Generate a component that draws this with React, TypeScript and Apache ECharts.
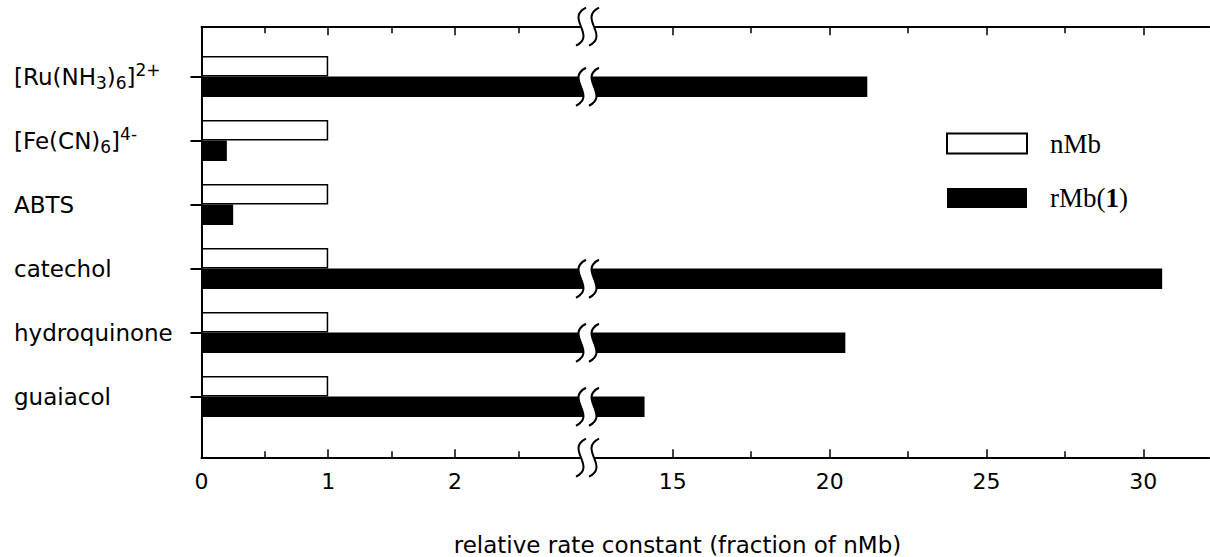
import React, { useEffect, useRef } from 'react';
import * as echarts from 'echarts';

// ---------- data ----------
const categories = ['[Ru(NH3)6]2+', '[Fe(CN)6]4-', 'ABTS', 'catechol', 'hydroquinone', 'guaiacol'];
const nMbValues = [1, 1, 1, 1, 1, 1];
const rMbValues = [21.2, 0.2, 0.25, 30.6, 20.5, 14.1];
const seriesNames = ['nMb', 'rMb(1)'];
const leftMajorTicks = [0, 1, 2];
const leftMinorTicks = [0.5, 1.5, 2.5];
const rightMajorTicks = [15, 20, 25, 30];
const rightMinorTicks = [17.5, 22.5, 27.5];
const axisTitle = 'relative rate constant (fraction of nMb)';

// ---------- layout ----------
const LEFT_MIN = 0;
const LEFT_MAX = 3.04;
const RIGHT_MIN = 12.4;
const RIGHT_MAX = 32.1;
const X0 = 201.5;
const LEFT_PPU = 126.7;
const RIGHT_PPU = 31.37;
const X15 = 672.8;
const LEFT_W = (LEFT_MAX - LEFT_MIN) * LEFT_PPU;
const RIGHT_X = X15 - (15 - RIGHT_MIN) * RIGHT_PPU;
const RIGHT_W = (RIGHT_MAX - RIGHT_MIN) * RIGHT_PPU;
const FRAME_TOP = 26.7;
const FRAME_BOTTOM = 457.7;
const GRID_TOP = 44.5;
const GRID_H = 384;
const BREAK_X = 587.5;
const BAR_W = 20.5;

const SANS = 'DejaVu Sans';
const SERIF = 'Liberation Serif';

const richLabels: Record<string, string> = {
  '[Ru(NH3)6]2+': '{m|[Ru(NH}{sub|3}{m|)}{sub|6}{m|]}{sup|2+}',
  '[Fe(CN)6]4-': '{m|[Fe(CN)}{sub|6}{m|]}{sup|4-}',
};

function bez(p0: number, p1: number, p2: number, p3: number, t: number) {
  const u = 1 - t;
  return u * u * u * p0 + 3 * u * u * t * p1 + 3 * u * t * t * p2 + t * t * t * p3;
}

function breakMark(cx: number, cy: number) {
  const h = 19;
  const gap = 6.5;
  const curve = (c: number) => ({
    x1: c + 5, y1: cy - h,
    cpx1: c - 16, cpy1: cy - h * 0.45,
    cpx2: c + 16, cpy2: cy + h * 0.45,
    x2: c - 5, y2: cy + h,
  });
  const c1 = curve(cx - gap);
  const c2 = curve(cx + gap);
  const pts: number[][] = [];
  for (let i = 0; i <= 30; i++) {
    const t = i / 30;
    pts.push([bez(c1.x1, c1.cpx1, c1.cpx2, c1.x2, t), bez(c1.y1, c1.cpy1, c1.cpy2, c1.y2, t)]);
  }
  for (let i = 30; i >= 0; i--) {
    const t = i / 30;
    pts.push([bez(c2.x1, c2.cpx1, c2.cpx2, c2.x2, t), bez(c2.y1, c2.cpy1, c2.cpy2, c2.y2, t)]);
  }
  return [
    { type: 'polygon', z: 100, shape: { points: pts }, style: { fill: '#fff', stroke: null } },
    { type: 'bezierCurve', z: 101, shape: c1, style: { stroke: '#000', lineWidth: 2, fill: null } },
    { type: 'bezierCurve', z: 101, shape: c2, style: { stroke: '#000', lineWidth: 2, fill: null } },
  ];
}

const lineStyle = { color: '#000', width: 2 };
const tickLabel = { fontFamily: SANS, fontSize: 22, color: '#000', margin: 13 };

function xAxisDef(grid: number, min: number, max: number, pos: 'top' | 'bottom', offset: number,
  ticks: number[], tickLen: number, showLine: boolean, showLabels: boolean) {
  return {
    type: 'value', gridIndex: grid, min, max, position: pos, offset,
    axisLine: { show: showLine, onZero: false, lineStyle },
    axisTick: { show: true, inside: true, length: tickLen, customValues: ticks, lineStyle: { color: '#000', width: 1.5 } },
    axisLabel: showLabels ? { show: true, customValues: ticks, ...tickLabel } : { show: false },
    splitLine: { show: false },
  };
}

export default function App() {
  const ref = useRef<HTMLDivElement>(null);
  useEffect(() => {
    const chart = echarts.init(ref.current!, null, { renderer: 'svg' });
    const option: any = {
      animation: false,
      backgroundColor: '#fff',
      grid: [
        { left: X0, top: GRID_TOP, width: LEFT_W, height: GRID_H },
        { left: RIGHT_X, top: GRID_TOP, width: RIGHT_W, height: GRID_H },
        { left: X0, top: FRAME_TOP, width: LEFT_W, height: FRAME_BOTTOM - FRAME_TOP },
        { left: RIGHT_X, top: FRAME_TOP, width: RIGHT_W, height: FRAME_BOTTOM - FRAME_TOP },
      ],
      xAxis: [
        xAxisDef(0, LEFT_MIN, LEFT_MAX, 'bottom', FRAME_BOTTOM - GRID_TOP - GRID_H, leftMajorTicks, 8.5, true, true),
        xAxisDef(0, LEFT_MIN, LEFT_MAX, 'top', GRID_TOP - FRAME_TOP, leftMajorTicks, 8.5, true, false),
        xAxisDef(1, RIGHT_MIN, RIGHT_MAX, 'bottom', FRAME_BOTTOM - GRID_TOP - GRID_H, rightMajorTicks, 8.5, true, true),
        xAxisDef(1, RIGHT_MIN, RIGHT_MAX, 'top', GRID_TOP - FRAME_TOP, rightMajorTicks, 8.5, true, false),
        xAxisDef(2, LEFT_MIN, LEFT_MAX, 'bottom', 0, leftMinorTicks, 6.5, false, false),
        xAxisDef(2, LEFT_MIN, LEFT_MAX, 'top', 0, leftMinorTicks, 6.5, false, false),
        xAxisDef(3, RIGHT_MIN, RIGHT_MAX, 'bottom', 0, rightMinorTicks, 6.5, false, false),
        xAxisDef(3, RIGHT_MIN, RIGHT_MAX, 'top', 0, rightMinorTicks, 6.5, false, false),
      ],
      yAxis: [
        {
          type: 'category', gridIndex: 0, data: categories, inverse: true,
          axisLine: { show: true, onZero: false, lineStyle },
          axisTick: { show: true, alignWithLabel: true, length: 11, lineStyle: { color: '#000', width: 2 } },
          axisLabel: {
            align: 'left', margin: X0 - 14, color: '#000',
            formatter: (v: string) => richLabels[v] || `{m|${v}}`,
            rich: {
              m: { fontFamily: SANS, fontSize: 23, color: '#000', lineHeight: 30 },
              sub: { fontFamily: SANS, fontSize: 17, color: '#000', lineHeight: 12, verticalAlign: 'bottom' },
              sup: { fontFamily: SANS, fontSize: 17, color: '#000', lineHeight: 12, verticalAlign: 'top' },
            },
          },
          splitLine: { show: false },
        },
        {
          type: 'category', gridIndex: 1, data: categories, inverse: true,
          axisLine: { show: false }, axisTick: { show: false }, axisLabel: { show: false }, splitLine: { show: false },
        },
        {
          type: 'value', gridIndex: 2, min: 0, max: 1,
          axisLine: { show: true, onZero: false, lineStyle }, axisTick: { show: false }, axisLabel: { show: false }, splitLine: { show: false },
        },
        {
          type: 'value', gridIndex: 3, min: 0, max: 1,
          axisLine: { show: false }, axisTick: { show: false }, axisLabel: { show: false }, splitLine: { show: false },
        },
      ],
      legend: {
        data: seriesNames,
        orient: 'vertical',
        left: 946,
        top: 130,
        padding: 0,
        itemWidth: 80,
        itemHeight: 20,
        itemGap: 27.5,
        icon: 'rect',
        selectedMode: false,
        formatter: (n: string) => (n === 'rMb(1)' ? '{a|rMb(}{b|1}{a|)}' : `{a|${n}}`),
        textStyle: {
          padding: [0, 0, 0, 18],
          rich: {
            a: { fontFamily: SERIF, fontSize: 27, color: '#000', lineHeight: 28 },
            b: { fontFamily: SERIF, fontSize: 27, fontWeight: 'bold', color: '#000', lineHeight: 28 },
          },
        },
      },
      series: [
        {
          name: seriesNames[0], type: 'bar', xAxisIndex: 0, yAxisIndex: 0, data: nMbValues,
          barWidth: BAR_W, barGap: '0%', clip: true,
          itemStyle: { color: '#fff', borderColor: '#000', borderWidth: 1.5 },
        },
        {
          name: seriesNames[1], type: 'bar', xAxisIndex: 0, yAxisIndex: 0, data: rMbValues,
          barWidth: BAR_W, barGap: '0%', clip: true,
          itemStyle: { color: '#000' },
        },
        {
          name: seriesNames[0], type: 'bar', xAxisIndex: 2, yAxisIndex: 1,
          data: nMbValues.map((v) => (v > RIGHT_MIN ? v : null)),
          barWidth: BAR_W, barGap: '0%', clip: true,
          itemStyle: { color: '#fff', borderColor: '#000', borderWidth: 1.5 },
        },
        {
          name: seriesNames[1], type: 'bar', xAxisIndex: 2, yAxisIndex: 1,
          data: rMbValues.map((v) => (v > RIGHT_MIN ? v : null)),
          barWidth: BAR_W, barGap: '0%', clip: true,
          itemStyle: { color: '#000' },
        },
      ],
    };
    chart.setOption(option);

    const graphics: any[] = [];
    graphics.push(...breakMark(BREAK_X, FRAME_TOP), ...breakMark(BREAK_X, FRAME_BOTTOM));
    let data: any = null;
    try {
      data = (chart as any).getModel().getSeriesByIndex(1).getData();
    } catch (e) {
      data = null;
    }
    rMbValues.forEach((v, i) => {
      if (v > LEFT_MAX) {
        let cy: number;
        const lay = data ? data.getItemLayout(i) : null;
        if (lay) {
          cy = lay.y + lay.height / 2;
        } else {
          cy = (chart.convertToPixel({ yAxisIndex: 0 } as any, i) as number) + BAR_W / 2;
        }
        graphics.push(...breakMark(BREAK_X, cy));
      }
    });
    graphics.push({
      type: 'text', z: 100, x: 677.5, y: 545,
      style: {
        text: axisTitle, fontFamily: SANS, fontSize: 23, lineHeight: 20, fill: '#000',
        align: 'center', verticalAlign: 'middle',
      },
    });
    chart.setOption({ graphic: graphics });
    return () => chart.dispose();
  }, []);
  return <div ref={ref} style={{ position: 'absolute', left: 0, top: 0, width: 1210, height: 557 }} />;
}
